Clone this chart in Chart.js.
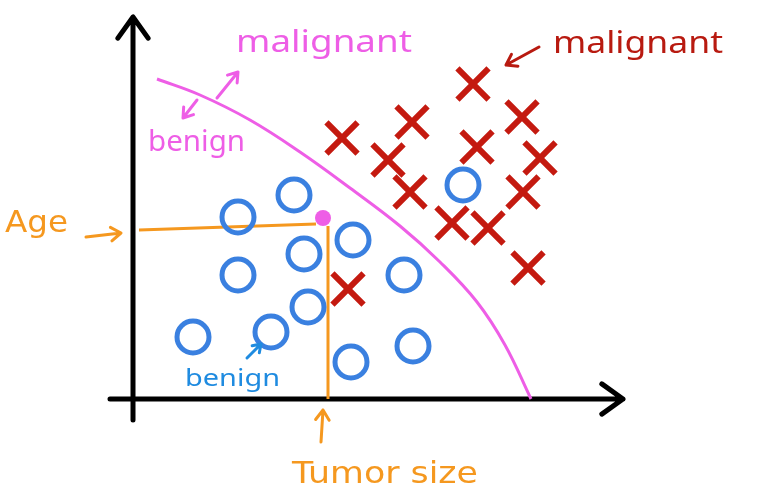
<!DOCTYPE html>
<html>
<head>
<meta charset="utf-8">
<script src="https://cdn.jsdelivr.net/npm/chart.js@4.4.0/dist/chart.umd.min.js"></script>
<style>
  html, body { margin: 0; background: #fff; }
  #wrap { width: 758px; height: 498px; }
</style>
</head>
<body>
<div id="wrap"><canvas id="sketch"></canvas></div>
<script>
// tumor size (x) vs age (y), measured from the corner of the axes
const benignX = [105, 161, 171, 220, 105, 175, 138, 60, 218, 280, 330, 271];
const benignY = [182, 204, 145, 159, 124, 92, 67, 62, 37, 53, 214, 124];

const malignantX = [209, 279, 340, 389, 255, 344, 407, 277, 390, 319, 355, 395, 215];
const malignantY = [261, 277, 315, 282, 239, 252, 241, 207, 207, 176, 171, 131, 110];

// hand drawn decision boundary
const boundaryX = [24, 67, 117, 167, 217, 267, 307, 344, 372, 398];
const boundaryY = [320, 304, 279, 247, 211, 173, 137, 97, 54, 0];

// the new patient and the guide lines to the axes
const patientX = [190];
const patientY = [181];
const guideX = [6, 183, null, 195, 195];
const guideY = [169, 175, null, 173, 0];

const ORANGE = '#f5981f';
const MAGENTA = '#ee5ee6';
const BLUE = '#3a80e0';
const RED = '#c41a10';

const pts = (xs, ys) => xs.map((x, i) => ({ x: x, y: ys[i] }));

function arrow(ctx, x1, y1, x2, y2, color, w, len, ang) {
    const a = Math.atan2(y2 - y1, x2 - x1);
    ctx.save();
    ctx.strokeStyle = color;
    ctx.lineWidth = w;
    ctx.lineCap = 'round';
    ctx.lineJoin = 'round';
    ctx.beginPath();
    ctx.moveTo(x1, y1);
    ctx.lineTo(x2, y2);
    ctx.moveTo(x2 - len * Math.cos(a - ang), y2 - len * Math.sin(a - ang));
    ctx.lineTo(x2, y2);
    ctx.lineTo(x2 - len * Math.cos(a + ang), y2 - len * Math.sin(a + ang));
    ctx.stroke();
    ctx.restore();
}

function fitText(ctx, s, x, y, w, font, color) {
    ctx.save();
    ctx.font = font;
    ctx.fillStyle = color;
    ctx.textBaseline = 'alphabetic';
    const m = ctx.measureText(s).width;
    ctx.translate(x, y);
    ctx.scale(w / m, 1);
    ctx.fillText(s, 0, 0);
    ctx.restore();
}

const sketchPlugin = {
    id: 'sketch',
    beforeDatasetsDraw(chart) {
        const ctx = chart.ctx;
        const sx = chart.scales.x, sy = chart.scales.y;
        const x0 = sx.getPixelForValue(0), y0 = sy.getPixelForValue(0);
        // axes with arrow heads
        arrow(ctx, sx.getPixelForValue(-23), y0, sx.getPixelForValue(490), y0, '#000', 5, 26, 0.62);
        arrow(ctx, x0, sy.getPixelForValue(-21), x0, sy.getPixelForValue(382), '#000', 5, 26, 0.62);
    },
    afterDatasetsDraw(chart) {
        const ctx = chart.ctx;
        const hand = '"Noto Sans", sans-serif';

        fitText(ctx, 'Age', 5, 232, 63, '30px "DejaVu Sans"', ORANGE);
        arrow(ctx, 86, 237, 121, 233, ORANGE, 3, 12, 0.6);
        fitText(ctx, 'Tumor size', 292, 483, 186, '30px "DejaVu Sans"', ORANGE);
        arrow(ctx, 321, 442, 323, 410, ORANGE, 3, 12, 0.6);

        fitText(ctx, 'malignant', 236, 52, 176, '31px ' + hand, MAGENTA);
        fitText(ctx, 'benign', 148, 151, 97, '29px ' + hand, MAGENTA);
        arrow(ctx, 217, 98, 238, 72, MAGENTA, 3, 11, 0.6);
        arrow(ctx, 197, 100, 183, 118, MAGENTA, 3, 11, 0.6);

        fitText(ctx, 'malignant', 553, 53, 170, '30px ' + hand, '#b81a10');
        arrow(ctx, 539, 47, 506, 65, '#b81a10', 3, 12, 0.6);

        fitText(ctx, 'benign', 185, 386, 95, '23px ' + hand, '#1f8be0');
        arrow(ctx, 247, 358, 261, 344, '#1f8be0', 3, 9, 0.6);
    }
};

new Chart(document.getElementById('sketch'), {
    type: 'scatter',
    data: {
        datasets: [
            {
                label: 'guide',
                data: pts(guideX, guideY),
                showLine: true,
                spanGaps: false,
                borderColor: ORANGE,
                borderWidth: 3,
                pointRadius: 0,
                order: 4
            },
            {
                label: 'boundary',
                data: pts(boundaryX, boundaryY),
                showLine: true,
                borderColor: MAGENTA,
                borderWidth: 3,
                tension: 0.4,
                pointRadius: 0,
                order: 3
            },
            {
                label: 'benign',
                data: pts(benignX, benignY),
                pointStyle: 'circle',
                pointRadius: 16,
                pointBorderWidth: 5,
                borderColor: BLUE,
                backgroundColor: 'rgba(0,0,0,0)',
                order: 2
            },
            {
                label: 'malignant',
                data: pts(malignantX, malignantY),
                pointStyle: 'crossRot',
                pointRadius: 22,
                pointBorderWidth: 6,
                borderColor: RED,
                backgroundColor: RED,
                order: 1
            },
            {
                label: 'patient',
                data: pts(patientX, patientY),
                pointRadius: 8,
                pointBorderWidth: 0,
                backgroundColor: MAGENTA,
                borderColor: MAGENTA,
                order: 0
            }
        ]
    },
    options: {
        responsive: true,
        maintainAspectRatio: false,
        animation: false,
        events: [],
        layout: { padding: 0, autoPadding: false },
        scales: {
            x: { type: 'linear', min: -133, max: 625, display: false },
            y: { type: 'linear', min: -99, max: 399, display: false }
        },
        plugins: {
            legend: { display: false },
            tooltip: { enabled: false }
        }
    },
    plugins: [sketchPlugin]
});
</script>
</body>
</html>
